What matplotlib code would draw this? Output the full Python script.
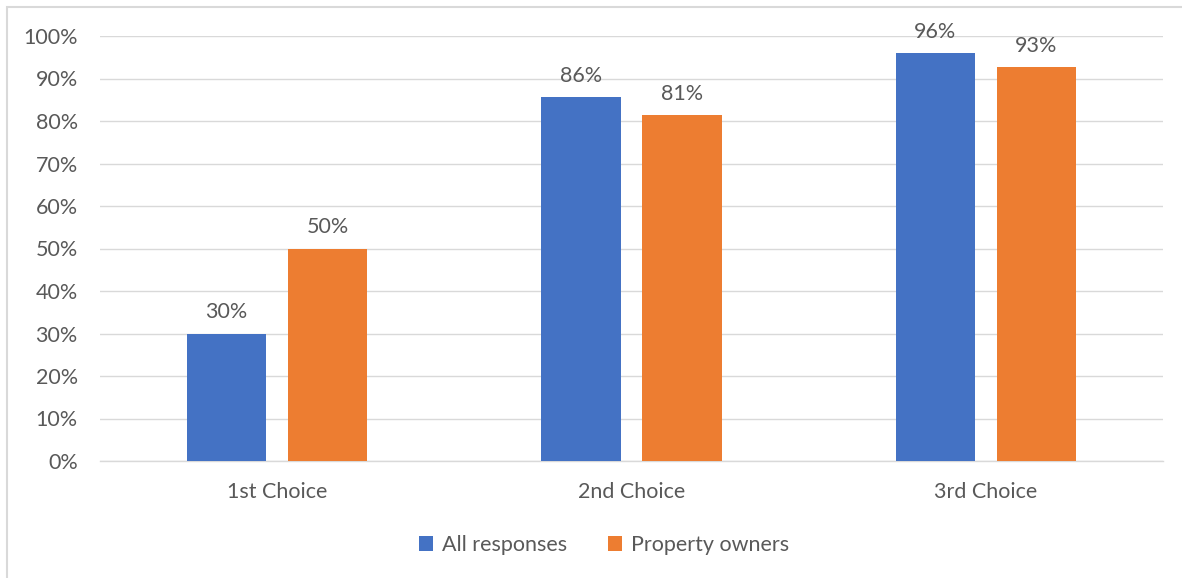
import matplotlib.pyplot as plt
from matplotlib.patches import Rectangle
import numpy as np

# Data
categories = ['1st Choice', '2nd Choice', '3rd Choice']
all_responses = [30.0, 85.7, 95.9]
property_owners = [50.0, 81.3, 92.7]
series_names = ['All responses', 'Property owners']
yticks = list(range(0, 101, 10))

blue = '#4472C4'
orange = '#ED7D31'
text_col = '#595959'
grid_col = '#D9D9D9'

plt.rcParams['font.family'] = ['Lato', 'DejaVu Sans']
fs = 15.5

fig = plt.figure(figsize=(11.82, 5.78), dpi=100)
ax = fig.add_axes([100/1182, 1 - 461/578, 1063/1182, 425/578])

x = np.arange(len(categories))
w = 0.223
off = 0.1425
b1 = ax.bar(x - off, all_responses, w, color=blue, label=series_names[0], zorder=3)
b2 = ax.bar(x + off, property_owners, w, color=orange, label=series_names[1], zorder=3)

for bars in (b1, b2):
    for rect in bars:
        h = rect.get_height()
        ax.annotate(f'{h:.0f}%', (rect.get_x() + rect.get_width()/2, h),
                    xytext=(0, 8), textcoords='offset points',
                    ha='center', va='bottom', fontsize=fs, color=text_col)

ax.set_xlim(-0.5, 2.5)
ax.set_ylim(0, 100)
ax.set_yticks(yticks)
ax.set_yticklabels([f'{t}%' for t in yticks])
ax.set_xticks(x)
ax.set_xticklabels(categories)
ax.tick_params(axis='both', length=0, labelsize=fs, colors=text_col)
ax.tick_params(axis='y', pad=16)
ax.tick_params(axis='x', pad=15)
ax.grid(axis='y', color=grid_col, linewidth=1, zorder=0)
for s in ['top', 'right', 'left']:
    ax.spines[s].set_visible(False)
ax.spines['bottom'].set_color(grid_col)
ax.spines['bottom'].set_linewidth(1)

fig.legend(loc='center', bbox_to_anchor=(604/1182, 1 - 545/578), ncol=2,
           frameon=False, fontsize=fs, handlelength=0.65, handleheight=0.65,
           columnspacing=1.9, handletextpad=0.4, labelcolor=text_col)

# chart frame (only left and top edges visible in reference)
fig.patches.append(Rectangle((7/1182, -0.1), 1.2, 1.1 - 7/578,
                             transform=fig.transFigure, fill=False,
                             edgecolor=grid_col, linewidth=1.5))

fig.savefig('out.png', dpi=100)
